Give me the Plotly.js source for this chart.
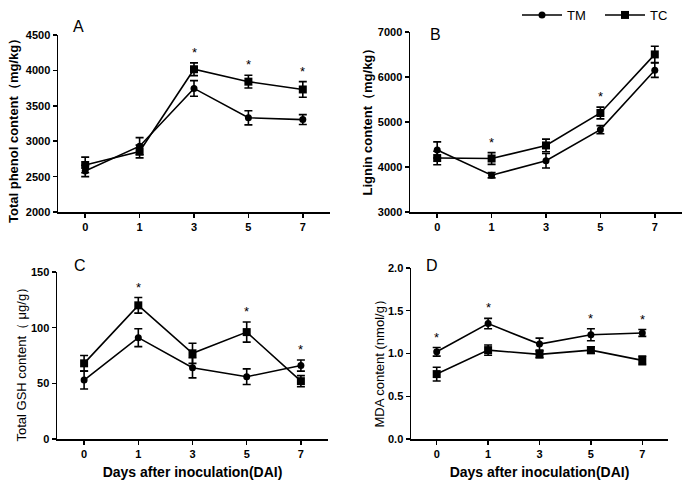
<!DOCTYPE html>
<html><head><meta charset="utf-8">
<script src="https://cdn.plot.ly/plotly-3.0.1.min.js"></script>
<style>body{margin:0;background:#fff}</style></head>
<body><div id="chart" style="width:685px;height:480px"></div>
<script>
const days = ["0", "1", "3", "5", "7"];

const phenolTM = [2580, 2930, 3745, 3330, 3305];
const phenolTMErr = [80, 120, 110, 100, 70];
const phenolTC = [2665, 2855, 4015, 3840, 3730];
const phenolTCErr = [110, 90, 90, 90, 110];
const phenolStars = ["3", "5", "7"];

const ligninTM = [4380, 3820, 4140, 4830, 6150];
const ligninTMErr = [180, 60, 160, 90, 160];
const ligninTC = [4200, 4190, 4480, 5200, 6500];
const ligninTCErr = [150, 130, 140, 130, 180];
const ligninStars = ["1", "5"];

const gshTM = [53, 91, 64, 56, 66];
const gshTMErr = [8, 8, 9, 7, 5];
const gshTC = [68, 120, 77, 96, 52];
const gshTCErr = [7, 7, 9, 9, 5];
const gshStars = ["1", "5", "7"];

const mdaTM = [1.02, 1.35, 1.11, 1.22, 1.24];
const mdaTMErr = [0.05, 0.06, 0.07, 0.07, 0.04];
const mdaTC = [0.76, 1.04, 0.99, 1.04, 0.92];
const mdaTCErr = [0.08, 0.06, 0.04, 0.04, 0.05];
const mdaStars = ["0", "1", "5", "7"];

const W = 685, H = 480;
const FONT = "Liberation Sans, Arial, sans-serif";
const fx = p => p / W;
const fy = p => 1 - p / H;

const panels = [
  {tm: phenolTM, tmE: phenolTMErr, tc: phenolTC, tcE: phenolTCErr, stars: phenolStars,
   px: [58, 330], py: [33, 211], range: [2000, 4500], dtick: 500, fmt: "d",
   title: "Total phenol content（mg/kg）", titleBold: true, tpos: [13.5, 126],
   xtitle: "", label: "A", lab: [78, 25]},
  {tm: ligninTM, tmE: ligninTMErr, tc: ligninTC, tcE: ligninTCErr, stars: ligninStars,
   px: [410, 682], py: [30, 211], range: [3000, 7000], dtick: 1000, fmt: "d",
   title: "Lignin content（mg/kg）", titleBold: true, tpos: [368, 117],
   xtitle: "", label: "B", lab: [435, 33]},
  {tm: gshTM, tmE: gshTMErr, tc: gshTC, tcE: gshTCErr, stars: gshStars,
   px: [57, 328], py: [271, 439], range: [0, 150], dtick: 50, fmt: "d",
   title: "Total GSH content（ μg/g）", titleBold: false, tpos: [21, 361],
   xtitle: "Days after inoculation(DAI)", label: "C", lab: [80, 265]},
  {tm: mdaTM, tmE: mdaTMErr, tc: mdaTC, tcE: mdaTCErr, stars: mdaStars,
   px: [411, 668], py: [267, 439], range: [0, 2], dtick: 0.5, fmt: ".1f",
   title: "MDA content (nmol/g）", titleBold: false, tpos: [379, 360],
   xtitle: "Days after inoculation(DAI)", label: "D", lab: [432, 265]}
];

const legendCommon = {orientation: "h", xanchor: "left", yanchor: "middle",
  font: {family: FONT, size: 13, color: "#000"}, bgcolor: "rgba(0,0,0,0)",
  itemwidth: 40, borderwidth: 0};

const data = [];
const layout = {
  width: W, height: H,
  margin: {l: 0, r: 0, t: 0, b: 0},
  paper_bgcolor: "#fff", plot_bgcolor: "#fff",
  font: {family: FONT, color: "#000"},
  showlegend: true,
  legend: Object.assign({}, legendCommon, {x: fx(517), y: fy(13)}),
  legend2: Object.assign({}, legendCommon, {x: fx(600), y: fy(13)}),
  annotations: []
};

panels.forEach((p, i) => {
  const n = i + 1;
  const xa = n === 1 ? "x" : "x" + n;
  const ya = n === 1 ? "y" : "y" + n;
  const xk = n === 1 ? "xaxis" : "xaxis" + n;
  const yk = n === 1 ? "yaxis" : "yaxis" + n;
  const common = {x: days, xaxis: xa, yaxis: ya, mode: "lines+markers", cliponaxis: false,
                  line: {color: "#000", width: 1.6}};
  data.push(Object.assign({}, common, {
    y: p.tm, name: "TM", showlegend: i === 0, legend: "legend",
    marker: {symbol: "circle", size: 7, color: "#000"},
    error_y: {type: "data", array: p.tmE, visible: true, color: "#000", thickness: 1.6, width: 4}
  }));
  data.push(Object.assign({}, common, {
    y: p.tc, name: "TC", showlegend: i === 0, legend: "legend2",
    marker: {symbol: "square", size: 8, color: "#000"},
    error_y: {type: "data", array: p.tcE, visible: true, color: "#000", thickness: 1.6, width: 4}
  }));
  layout[xk] = {
    type: "category", domain: [fx(p.px[0]), fx(p.px[1])], anchor: ya,
    range: [-0.5, 4.5], showgrid: false, zeroline: false, showline: true,
    linecolor: "#000", linewidth: 1.5, ticks: "outside", ticklen: 4, tickwidth: 1.5, tickcolor: "#000",
    tickfont: {family: FONT, size: 11, weight: "bold", color: "#000"},
    title: {text: p.xtitle, font: {family: FONT, size: 14, weight: "bold", color: "#000"}},
    fixedrange: true, automargin: false
  };
  layout[yk] = {
    domain: [fy(p.py[1]), fy(p.py[0])], anchor: xa,
    range: p.range, dtick: p.dtick, tick0: 0, tickformat: p.fmt,
    showgrid: false, zeroline: false, showline: true,
    linecolor: "#000", linewidth: 1.5, ticks: "outside", ticklen: 4, tickwidth: 1.5, tickcolor: "#000",
    tickfont: {family: FONT, size: 11, weight: "bold", color: "#000"},
    title: {text: ""},
    fixedrange: true, automargin: false
  };
  // y-axis title drawn as rotated text for exact placement
  layout.annotations.push({
    x: fx(p.tpos[0]), y: fy(p.tpos[1]), xref: "paper", yref: "paper", text: p.title,
    textangle: -90, showarrow: false, xanchor: "center", yanchor: "middle",
    font: {family: FONT, size: 13, weight: p.titleBold ? "bold" : "normal", color: "#000"}
  });
  p.stars.forEach(d => {
    const k = days.indexOf(d);
    const top = Math.max(p.tm[k] + p.tmE[k], p.tc[k] + p.tcE[k]);
    layout.annotations.push({
      x: k, y: top, xref: xa, yref: ya, text: "*", showarrow: false,
      yanchor: "bottom", yshift: 1, font: {family: FONT, size: 13, color: "#000"}
    });
  });
  layout.annotations.push({
    x: fx(p.lab[0]), y: fy(p.lab[1]), xref: "paper", yref: "paper", text: p.label,
    showarrow: false, xanchor: "center", yanchor: "middle",
    font: {family: FONT, size: 16, color: "#000"}
  });
});

Plotly.newPlot("chart", data, layout, {displayModeBar: false, staticPlot: true});
</script></body></html>
